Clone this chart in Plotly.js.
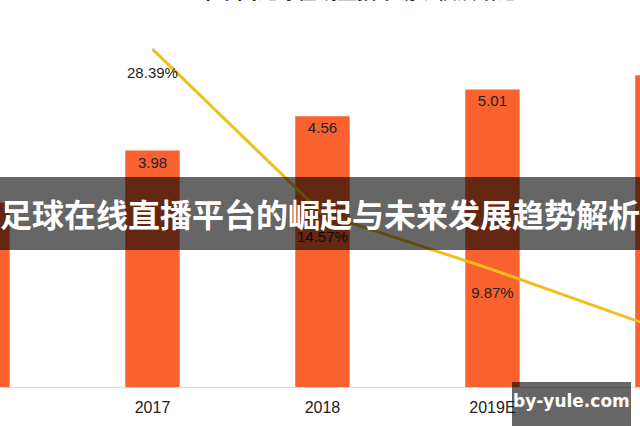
<!DOCTYPE html>
<html>
<head>
<meta charset="utf-8">
<script src="https://cdn.plot.ly/plotly-3.0.1.min.js"></script>
<style>
html,body{margin:0;padding:0;background:#fff;}
#chart{width:640px;height:426px;}
</style>
</head>
<body>
<div id="chart"></div>
<script>
const years = ["2016", "2017", "2018", "2019E", "2020E"];
const marketSize = [3.10, 3.98, 4.56, 5.01, 5.25];
const sizeLabels = ["3.10", "3.98", "4.56", "5.01", "5.25"];
const growthRate = [null, 28.39, 14.57, 9.87, 4.79];
const growthLabels = ["", "28.39%", "14.57%", "9.87%", "4.79%"];
const chartTitle = "2016-2020E年中国足球在线直播市场规模及增速";
const bannerText = "足球在线直播平台的崛起与未来发展趋势解析";
const watermark = "by-yule.com";

const bars = {
  type: "bar",
  x: years,
  y: marketSize,
  text: sizeLabels,
  textposition: "inside",
  insidetextanchor: "end",
  textfont: {family: "Liberation Sans, Arial, sans-serif", size: 15, color: "#222"},
  marker: {color: "#F9612F"},
  width: 0.32,
  hoverinfo: "skip",
  cliponaxis: false
};
const line = {
  type: "scatter",
  mode: "lines+markers+text",
  x: years,
  y: growthRate,
  yaxis: "y2",
  text: growthLabels,
  textposition: "bottom center",
  textfont: {family: "Liberation Sans, Arial, sans-serif", size: 15, color: "#222"},
  line: {color: "#F1BE1F", width: 3},
  marker: {size: 26, color: "rgba(0,0,0,0)"},
  connectgaps: false,
  hoverinfo: "skip"
};

const layout = {
  width: 640, height: 426,
  margin: {l: 0, r: 0, t: 40, b: 39},
  paper_bgcolor: "#fff", plot_bgcolor: "#fff",
  showlegend: false,
  xaxis: {
    type: "category",
    range: [0.103, 3.868],
    showline: true, linecolor: "#d9d9d9", linewidth: 1,
    ticks: "", showgrid: false, zeroline: false,
    ticklabelstandoff: 6,
    tickfont: {family: "Liberation Sans, Arial, sans-serif", size: 16, color: "#222"}
  },
  yaxis: {range: [0, 5.842], visible: false, showgrid: false, zeroline: false},
  yaxis2: {range: [0, 29.16], overlaying: "y", side: "right", visible: false, showgrid: false, zeroline: false},
  shapes: [
    {type: "rect", xref: "paper", yref: "paper", x0: 0, x1: 1,
     y0: (387 - 250) / 347, y1: (387 - 177) / 347,
     fillcolor: "rgba(0,0,0,0.6)", line: {width: 0}, layer: "above"},
    {type: "rect", xref: "paper", yref: "paper", x0: 512 / 640, x1: 631 / 640,
     y0: (387 - 430) / 347, y1: (387 - 382) / 347,
     fillcolor: "rgba(0,0,0,0.6)", line: {width: 0}, layer: "above"}
  ],
  annotations: [
    {text: chartTitle, xref: "paper", yref: "paper", x: 300 / 640, y: (387 - 7) / 347,
     xanchor: "center", yanchor: "bottom", showarrow: false,
     font: {family: "Noto Sans CJK SC, sans-serif", size: 20, color: "#222", weight: "bold"}},
    {text: "<b>" + bannerText + "</b>", xref: "paper", yref: "paper", x: 0.5, y: (387 - 213) / 347,
     xanchor: "center", yanchor: "middle", showarrow: false,
     font: {family: "Noto Sans CJK SC, sans-serif", size: 32, color: "#fff"}},
    {text: "<b>" + watermark + "</b>", xref: "paper", yref: "paper", x: 571 / 640, y: (387 - 401) / 347,
     xanchor: "center", yanchor: "middle", showarrow: false,
     font: {family: "DejaVu Sans, sans-serif", size: 17, color: "#fff"}}
  ]
};

Plotly.newPlot("chart", [bars, line], layout, {staticPlot: true, displayModeBar: false});
</script>
</body>
</html>
